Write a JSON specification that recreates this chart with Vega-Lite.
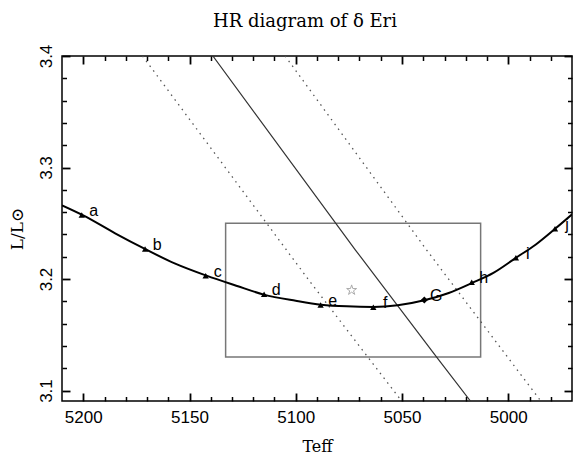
{
  "$schema": "https://vega.github.io/schema/vega-lite/v6.json",
  "width": 510,
  "height": 345,
  "autosize": {"type": "none"},
  "padding": {"left": 62, "top": 56, "right": 3, "bottom": 60},
  "background": "white",
  "title": {"text": "HR diagram of δ Eri", "font": "DejaVu Serif", "fontSize": 18, "fontWeight": "normal", "offset": 13, "dx": -12, "color": "black"},
  "config": {
    "view": {"stroke": "black", "strokeWidth": 1.5},
    "axis": {"grid": false, "domain": false, "ticks": true, "tickOpacity": 1, "tickColor": "black", "labelColor": "black", "titleColor": "black", "zindex": 1}
  },
  "datasets": {
    "box": [{"T1": 5133, "T2": 5013, "L1": 3.13, "L2": 3.25}],
    "solid": [
      {"T": 5139, "L": 3.4},
      {"T": 5071.9, "L": 3.226},
      {"T": 5033.7, "L": 3.13},
      {"T": 5017.8, "L": 3.0906}
    ],
    "dotted": [
      {"side": "left", "T": 5172.1, "L": 3.4},
      {"side": "left", "T": 5093.3, "L": 3.1976},
      {"side": "left", "T": 5050.2, "L": 3.0906},
      {"side": "right", "T": 5105, "L": 3.4},
      {"side": "right", "T": 5038.4, "L": 3.226},
      {"side": "right", "T": 4984.7, "L": 3.0906}
    ],
    "curve": [
      {"T": 5210, "L": 3.266},
      {"T": 5200, "L": 3.257},
      {"T": 5185, "L": 3.241},
      {"T": 5171, "L": 3.227},
      {"T": 5157, "L": 3.214},
      {"T": 5142, "L": 3.203},
      {"T": 5128, "L": 3.194},
      {"T": 5115, "L": 3.186},
      {"T": 5100, "L": 3.1805},
      {"T": 5088, "L": 3.177},
      {"T": 5076, "L": 3.1755},
      {"T": 5063.5, "L": 3.175},
      {"T": 5052, "L": 3.1765},
      {"T": 5039.5, "L": 3.181},
      {"T": 5028, "L": 3.1875},
      {"T": 5017, "L": 3.1965},
      {"T": 5007, "L": 3.2055},
      {"T": 4996.4, "L": 3.219},
      {"T": 4987, "L": 3.231},
      {"T": 4978, "L": 3.245},
      {"T": 4970, "L": 3.258}
    ],
    "markers": [
      {"lab": "a", "T": 5200.7, "L": 3.2574, "sym": "tri"},
      {"lab": "b", "T": 5170.9, "L": 3.2269, "sym": "tri"},
      {"lab": "c", "T": 5142.4, "L": 3.203, "sym": "tri"},
      {"lab": "d", "T": 5114.9, "L": 3.1863, "sym": "tri"},
      {"lab": "e", "T": 5088.3, "L": 3.1767, "sym": "tri"},
      {"lab": "f", "T": 5063.5, "L": 3.1746, "sym": "tri"},
      {"lab": "G", "T": 5039.5, "L": 3.1812, "sym": "dia"},
      {"lab": "h", "T": 5017.2, "L": 3.197, "sym": "tri"},
      {"lab": "i", "T": 4996.4, "L": 3.219, "sym": "tri"},
      {"lab": "j", "T": 4978, "L": 3.245, "sym": "tri"}
    ],
    "star": [{"T": 5073.7, "L": 3.19}]
  },
  "resolve": {"axis": {"x": "independent", "y": "independent"}},
  "layer": [
    {
      "data": {"name": "box"},
      "mark": {"type": "rect", "fill": null, "fillOpacity": 0, "stroke": "#777777", "strokeWidth": 1.5},
      "encoding": {
        "x": {"field": "T1", "type": "quantitative",
          "scale": {"domain": [4970, 5210], "reverse": true, "nice": false, "zero": false},
          "axis": {"orient": "bottom", "offset": -8, "values": [5200, 5150, 5100, 5050, 5000], "ticks": true, "tickSize": 8, "tickWidth": 1.8, "labelFont": "Liberation Sans", "labelFontSize": 17, "labelPadding": 8, "labelFlush": false, "labelOverlap": false, "format": "d", "title": "Teff", "titleFont": "DejaVu Serif", "titleFontSize": 16, "titleFontWeight": "normal", "titlePadding": 13}},
        "x2": {"field": "T2"},
        "y": {"field": "L1", "type": "quantitative",
          "scale": {"domain": [3.0906, 3.4], "nice": false, "zero": false},
          "axis": {"orient": "left", "offset": -8, "values": [3.1, 3.2, 3.3, 3.4], "ticks": true, "tickSize": 8, "tickWidth": 1.8, "labelAngle": -90, "labelAlign": "center", "labelBaseline": "bottom", "labelFont": "Liberation Sans", "labelFontSize": 17, "labelPadding": 7, "labelFlush": false, "labelOverlap": false, "format": ".1f", "title": "L/L⊙", "titleFont": "DejaVu Serif", "titleFontSize": 17, "titleFontWeight": "normal", "titlePadding": 11}},
        "y2": {"field": "L2"}
      }
    },
    {
      "data": {"name": "dotted"},
      "mark": {"type": "line", "clip": true, "color": "#555555", "strokeWidth": 1.3, "strokeDash": [1.5, 4.5]},
      "encoding": {
        "x": {"field": "T", "type": "quantitative",
          "axis": {"orient": "bottom", "offset": -4.5, "values": [4980, 4990, 5010, 5020, 5030, 5040, 5060, 5070, 5080, 5090, 5110, 5120, 5130, 5140, 5160, 5170, 5180, 5190], "ticks": true, "tickSize": 4.5, "tickWidth": 1.5, "labels": false, "title": null}},
        "y": {"field": "L", "type": "quantitative",
          "axis": {"orient": "left", "offset": -4.5, "values": [3.12, 3.14, 3.16, 3.18, 3.22, 3.24, 3.26, 3.28, 3.32, 3.34, 3.36, 3.38], "ticks": true, "tickSize": 4.5, "tickWidth": 1.5, "labels": false, "title": null}},
        "detail": {"field": "side"}
      }
    },
    {
      "data": {"name": "solid"},
      "mark": {"type": "line", "clip": true, "color": "#333333", "strokeWidth": 1.2},
      "encoding": {
        "x": {"field": "T", "type": "quantitative",
          "axis": {"orient": "top", "offset": -8, "values": [5200, 5150, 5100, 5050, 5000], "ticks": true, "tickSize": 8, "tickWidth": 1.8, "labels": false, "title": null}},
        "y": {"field": "L", "type": "quantitative",
          "axis": {"orient": "right", "offset": -8, "values": [3.1, 3.2, 3.3, 3.4], "ticks": true, "tickSize": 8, "tickWidth": 1.8, "labels": false, "title": null}}
      }
    },
    {
      "data": {"name": "curve"},
      "mark": {"type": "line", "clip": true, "color": "black", "strokeWidth": 2, "interpolate": "monotone"},
      "encoding": {
        "x": {"field": "T", "type": "quantitative",
          "axis": {"orient": "top", "offset": -4.5, "values": [4980, 4990, 5010, 5020, 5030, 5040, 5060, 5070, 5080, 5090, 5110, 5120, 5130, 5140, 5160, 5170, 5180, 5190], "ticks": true, "tickSize": 4.5, "tickWidth": 1.5, "labels": false, "title": null}},
        "y": {"field": "L", "type": "quantitative",
          "axis": {"orient": "right", "offset": -4.5, "values": [3.12, 3.14, 3.16, 3.18, 3.22, 3.24, 3.26, 3.28, 3.32, 3.34, 3.36, 3.38], "ticks": true, "tickSize": 4.5, "tickWidth": 1.5, "labels": false, "title": null}}
      }
    },
    {
      "data": {"name": "markers"},
      "mark": {"type": "point", "filled": true, "color": "black", "opacity": 1},
      "encoding": {
        "x": {"field": "T", "type": "quantitative", "axis": null},
        "y": {"field": "L", "type": "quantitative", "axis": null},
        "shape": {"field": "sym", "type": "nominal", "scale": {"domain": ["tri", "dia"], "range": ["triangle-up", "diamond"]}, "legend": null},
        "size": {"field": "sym", "type": "nominal", "scale": {"domain": ["tri", "dia"], "range": [40, 50]}, "legend": null}
      }
    },
    {
      "data": {"name": "markers"},
      "mark": {"type": "text", "dx": 12, "dy": -4, "font": "Liberation Sans", "fontSize": 16, "color": "black", "align": "center", "baseline": "middle"},
      "encoding": {
        "x": {"field": "T", "type": "quantitative", "axis": null},
        "y": {"field": "L", "type": "quantitative", "axis": null},
        "text": {"field": "lab"}
      }
    },
    {
      "data": {"name": "star"},
      "mark": {"type": "point", "filled": false, "stroke": "#888888", "strokeWidth": 1, "size": 110, "shape": "M0,-1L0.2245,-0.309L0.951,-0.309L0.363,0.118L0.588,0.809L0,0.382L-0.588,0.809L-0.363,0.118L-0.951,-0.309L-0.2245,-0.309Z"},
      "encoding": {
        "x": {"field": "T", "type": "quantitative", "axis": null},
        "y": {"field": "L", "type": "quantitative", "axis": null}
      }
    }
  ]
}
